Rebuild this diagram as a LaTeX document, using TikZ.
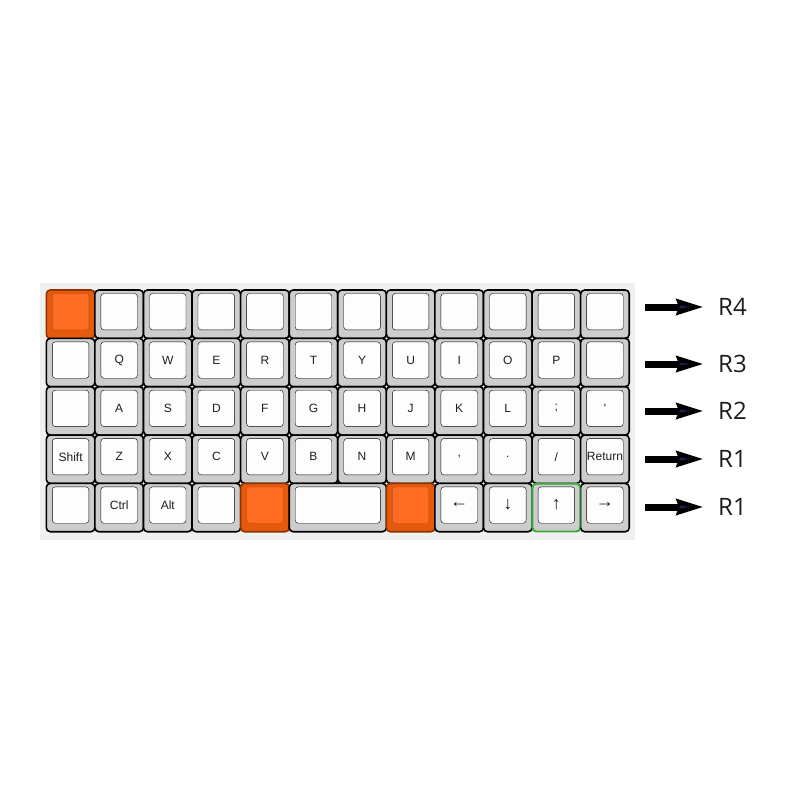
\documentclass[tikz,border=0pt]{standalone}
\usepackage{fontspec}
\setmainfont{Liberation Sans}
\newfontfamily\labfont{Open Sans}
\usetikzlibrary{arrows.meta}
\definecolor{bggray}{HTML}{F0F0F0}
\definecolor{capgray}{HTML}{CDCDCD}
\definecolor{captop}{HTML}{FDFDFD}
\definecolor{orangeside}{HTML}{E65A0E}
\definecolor{orangetop}{HTML}{FF6D24}
\definecolor{orangeedge}{HTML}{8C3300}
\definecolor{keygreen}{HTML}{3DAA3D}
\definecolor{arrownavy}{HTML}{1C1C5A}
\definecolor{textdark}{HTML}{1E1E1E}

\tikzset{
  keyside/.style={line width=1.6pt, rounded corners=4pt},
  side normal/.style={fill=capgray, draw=black},
  side orange/.style={fill=orangeside, draw=orangeedge},
  side green/.style={fill=capgray, draw=keygreen, line width=1.3pt},
  keytop/.style={rounded corners=3pt},
  top normal/.style={fill=captop},
  top orange/.style={fill=orangetop, draw=orangeside!85!black, line width=0.4pt},
  top green/.style={fill=captop},
  keylabel/.style={font=\fontsize{12}{14}\selectfont, text=textdark, inner sep=0pt},
  rowlabel/.style={font=\labfont\fontsize{24}{28}\selectfont, text=textdark, inner sep=0pt, anchor=west},
  fatarrow/.style={line width=7pt, -{Stealth[length=27pt,width=15pt,inset=2pt]}, shorten >=14pt},
  greenring/.style={draw=keygreen, line width=1.2pt, rounded corners=4pt}
}

\newcommand\kkey[5]{%
  \pgfmathsetmacro\xa{46.3+48.58*#1}%
  \pgfmathsetmacro\xb{\xa+48.58*#3}%
  \pgfmathsetmacro\ya{290+48.35*#2}%
  \pgfmathsetmacro\yb{\ya+48.35}%
  \filldraw[keyside, side #5] (\xa,\ya) rectangle (\xb,\yb);
  \filldraw[keytop, top #5] (\xa+6,\ya+3.5) rectangle (\xb-6,\yb-8.5);
  \node[keylabel] (k-#1-#2) at ({(\xa+\xb)/2},\ya+21.7) {#4};
}
\newcommand\arr[1]{{\fontsize{18}{18}\selectfont #1}}

\begin{document}
\begin{tikzpicture}[x=1pt,y=-1pt]
\useasboundingbox (0,0) rectangle (800,800);
\fill[white] (0,0) rectangle (800,800);
\fill[bggray] (40,283) rectangle (635,540);

% row 1
\kkey{0}{0}{1}{}{orange}
\foreach \c in {1,...,11} {\kkey{\c}{0}{1}{}{normal}}
% row 2
\kkey{0}{1}{1}{}{normal}
\foreach \t [count=\c] in {Q,W,E,R,T,Y,U,I,O,P} {\kkey{\c}{1}{1}{\t}{normal}}
\kkey{11}{1}{1}{}{normal}
% row 3
\kkey{0}{2}{1}{}{normal}
\foreach \t [count=\c] in {A,S,D,F,G,H,J,K,L,;} {\kkey{\c}{2}{1}{\t}{normal}}
\kkey{11}{2}{1}{\textquotesingle}{normal}
% row 4
\kkey{0}{3}{1}{Shift}{normal}
\foreach \t [count=\c] in {Z,X,C,V,B,N,M,{,},.,/} {\kkey{\c}{3}{1}{\t}{normal}}
\kkey{11}{3}{1}{Return}{normal}
% row 5
\kkey{0}{4}{1}{}{normal}
\kkey{1}{4}{1}{Ctrl}{normal}
\kkey{2}{4}{1}{Alt}{normal}
\kkey{3}{4}{1}{}{normal}
\kkey{4}{4}{1}{}{orange}
\kkey{5}{4}{2}{}{normal}
\kkey{7}{4}{1}{}{orange}
\kkey{8}{4}{1}{\arr{←}}{normal}
\kkey{9}{4}{1}{\arr{↓}}{normal}
\kkey{10}{4}{1}{\arr{↑}}{green}
\kkey{11}{4}{1}{\arr{→}}{normal}
% green outline of the up key on top
\draw[greenring] (46.3+48.58*10+0.6,290+48.35*4+0.6) rectangle (46.3+48.58*11-0.6,290+48.35*5-0.6);

% row labels and arrows
\node[rowlabel] (r4) at (718,307) {R4};
\node[rowlabel] (r3) at (718,364) {R3};
\node[rowlabel] (r2) at (718,411) {R2};
\node[rowlabel] (r1a) at (718,459) {R1};
\node[rowlabel] (r1b) at (718,507) {R1};
\foreach \n/\y in {r4/307, r3/364, r2/411, r1a/459, r1b/507} {
  \coordinate (s-\n) at (645,\y);
  \draw[fatarrow] (s-\n) -- (s-\n -| \n.west);
  \fill[arrownavy] (680,\y-1.5) -- (690,\y) -- (680,\y+1.5) -- cycle;
}
\end{tikzpicture}
\end{document}
